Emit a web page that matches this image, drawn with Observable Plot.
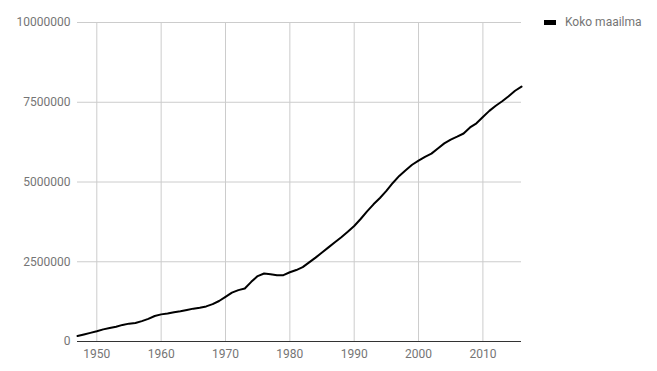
<!DOCTYPE html>
<html>
<head>
<meta charset="utf-8">
<script src="https://cdn.jsdelivr.net/npm/d3@7"></script>
<script src="https://cdn.jsdelivr.net/npm/@observablehq/plot@0.6"></script>
<style>
  html, body { margin: 0; padding: 0; background: #fff; }
  #wrap { position: relative; width: 657px; height: 371px; font-family: Roboto, sans-serif; }
  #legend { position: absolute; left: 544px; top: 15px; font: 12px Roboto, sans-serif; color: #757575; display: flex; align-items: center; }
  #legend .sw { width: 12px; height: 5px; background: #000; margin-right: 9px; }
</style>
</head>
<body>
<div id="wrap"></div>
<script>
const seriesName = "Koko maailma";
const years = [1947,1948,1949,1950,1951,1952,1953,1954,1955,1956,1957,1958,1959,1960,1961,1962,1963,1964,1965,1966,1967,1968,1969,1970,1971,1972,1973,1974,1975,1976,1977,1978,1979,1980,1981,1982,1983,1984,1985,1986,1987,1988,1989,1990,1991,1992,1993,1994,1995,1996,1997,1998,1999,2000,2001,2002,2003,2004,2005,2006,2007,2008,2009,2010,2011,2012,2013,2014,2015,2016];
const values = [170000,220000,270000,320000,380000,420000,460000,520000,560000,580000,640000,710000,800000,850000,880000,920000,950000,990000,1030000,1060000,1100000,1170000,1270000,1400000,1530000,1610000,1660000,1870000,2050000,2130000,2110000,2080000,2080000,2170000,2240000,2330000,2480000,2630000,2790000,2950000,3110000,3270000,3440000,3620000,3840000,4080000,4300000,4500000,4720000,4970000,5190000,5370000,5540000,5670000,5790000,5890000,6050000,6210000,6330000,6420000,6520000,6710000,6840000,7040000,7230000,7390000,7530000,7690000,7860000,7990000,8140000];
const xTicks = [1950,1960,1970,1980,1990,2000,2010];
const yTicks = [0,2500000,5000000,7500000,10000000];

const data = years.map((y, i) => ({year: y, value: values[i]}));

const chart = Plot.plot({
  width: 657,
  height: 371,
  marginLeft: 77,
  marginRight: 136,
  marginTop: 22,
  marginBottom: 30,
  style: {fontFamily: "Roboto, sans-serif", fontSize: "12px", color: "#757575", background: "#fff"},
  x: {domain: [1947, 2016], ticks: xTicks, tickFormat: d => String(d), label: null},
  y: {domain: [0, 10000000], ticks: yTicks, tickFormat: d => String(d), label: null},
  marks: [
    Plot.gridX(xTicks, {stroke: "#cccccc", strokeOpacity: 1}),
    Plot.gridY(yTicks.slice(1), {stroke: "#cccccc", strokeOpacity: 1}),
    Plot.axisX({ticks: xTicks, tickSize: 0, tickPadding: 8, tickFormat: d => String(d), fill: "#757575", label: null}),
    Plot.axisY({ticks: yTicks, tickSize: 0, tickPadding: 7, tickFormat: d => String(d), fill: "#757575", label: null}),
    Plot.ruleY([0], {stroke: "#333333", strokeWidth: 1}),
    Plot.line(data, {x: "year", y: "value", stroke: "#000000", strokeWidth: 2, curve: "linear"})
  ]
});

const wrap = document.getElementById("wrap");
wrap.appendChild(chart);
const legend = document.createElement("div");
legend.id = "legend";
legend.innerHTML = `<span class="sw"></span><span></span>`;
legend.lastChild.textContent = seriesName;
wrap.appendChild(legend);
</script>
</body>
</html>
